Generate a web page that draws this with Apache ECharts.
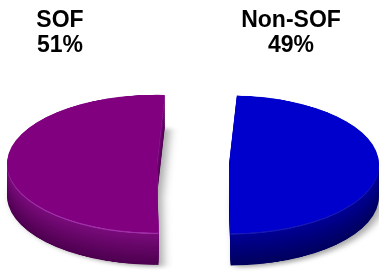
<!DOCTYPE html>
<html><head><meta charset="utf-8">
<script src="https://cdn.jsdelivr.net/npm/echarts@6/dist/echarts.min.js"></script>
<style>
html,body{margin:0;padding:0;background:#fff;overflow:hidden}
#wrap{position:relative;width:379px;height:272px;overflow:hidden;background:#fff}
#pie{position:absolute;left:0;top:0;width:379px;height:592px;transform:scaleY(0.46);transform-origin:0 0}
#lab{position:absolute;left:0;top:0;width:379px;height:272px}
</style></head><body>
<div id="wrap"><div id="pie"></div><div id="lab"></div></div>
<script>
// data
const categories = ['SOF', 'Non-SOF'];
const values = [51, 49];

// styling
const topColors = ['#800080', '#0000CC'];
const sideDark = [[0x4e, 0x00, 0x50], [0x00, 0x00, 0x5e]];
const sideLight = [[0x7c, 0x0c, 0x7e], [0x00, 0x00, 0x98]];
const rimColors = ['#a030a8', '#1818b4'];

const K = 0.46;
const CX = 193, CY = 164 / K, R = 150, DEPTH = 70, OFFSET = 36;

function rgb(a){return 'rgb(' + a.map(Math.round).join(',') + ')';}
function mix(a, b, t){return a.map((v, i) => v + (b[i] - v) * t);}

function pieSeries(dy, colorFn, extra) {
  return Object.assign({
    type: 'pie',
    center: [CX, CY + dy],
    radius: [0, R],
    startAngle: 87,
    clockwise: false,
    selectedMode: 'multiple',
    selectedOffset: OFFSET,
    silent: true,
    animation: false,
    padAngle: 0,
    label: {show: false},
    labelLine: {show: false},
    emphasis: {disabled: true},
    data: categories.map((c, i) => ({
      name: c,
      value: values[i],
      selected: true,
      itemStyle: {color: colorFn(i), borderWidth: 0},
      select: {itemStyle: {color: colorFn(i), borderWidth: 0}}
    }))
  }, extra || {});
}

const series = [];
// shadow layer
series.push(pieSeries(DEPTH, i => rgb(sideDark[i]), {
  itemStyle: {shadowColor: 'rgba(0,0,0,0.35)', shadowBlur: 10, shadowOffsetX: 5, shadowOffsetY: 4}
}));
const steps = 16;
for (let s = steps - 1; s >= 1; s--) {
  const dy = DEPTH * s / steps;
  const t = s / steps;
  series.push(pieSeries(dy, i => rgb(mix(sideLight[i], sideDark[i], t))));
}
series.push(pieSeries(3, i => rimColors[i]));
series.push(pieSeries(0, i => topColors[i]));

const pie = echarts.init(document.getElementById('pie'), null, {renderer: 'canvas'});
pie.setOption({backgroundColor: 'transparent', series: series});

const labelX = [60, 291];
const lab = echarts.init(document.getElementById('lab'));
lab.setOption({
  backgroundColor: 'transparent',
  graphic: categories.map((c, i) => ({
    type: 'text',
    x: labelX[i],
    y: 8,
    silent: true,
    style: {
      text: c + '\n' + values[i] + '%',
      align: 'center',
      verticalAlign: 'top',
      font: 'bold 23px "Liberation Sans", Arial, sans-serif',
      lineHeight: 25,
      fill: '#000'
    }
  }))
});
</script>
</body></html>
